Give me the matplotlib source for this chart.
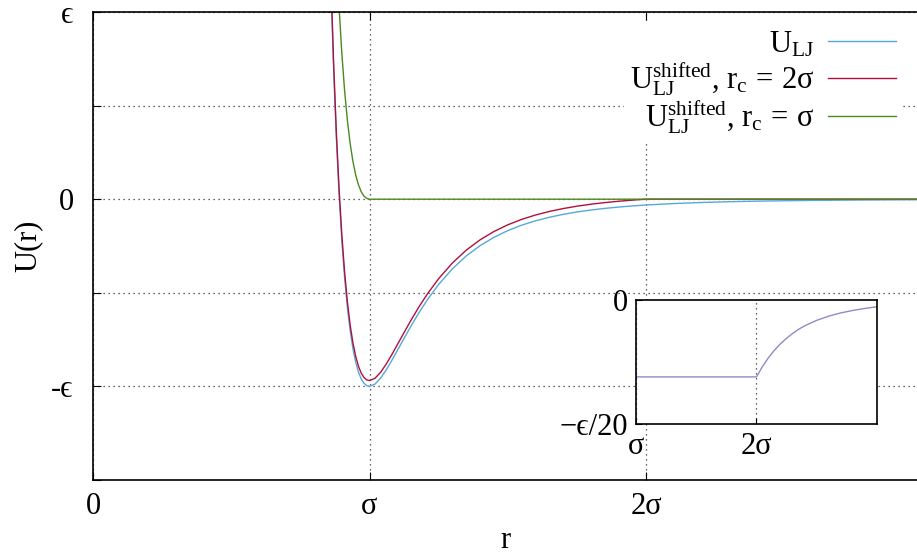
import matplotlib
matplotlib.use("Agg")
import matplotlib.pyplot as plt

plt.rcParams['font.family'] = ['Liberation Serif', 'DejaVu Serif']
plt.rcParams['mathtext.fontset'] = 'custom'
plt.rcParams['mathtext.rm'] = 'Liberation Serif'
plt.rcParams['mathtext.it'] = 'Liberation Serif'
plt.rcParams['mathtext.bf'] = 'Liberation Serif'

# r in units of sigma (position of the minimum), U in units of epsilon
r_vals = [0.85, 0.86, 0.87, 0.88, 0.89, 0.90, 0.91, 0.92, 0.93, 0.94,
          0.95, 0.96, 0.97, 0.98, 0.99, 1.00, 1.02, 1.04, 1.06, 1.08,
          1.10, 1.12, 1.15, 1.18, 1.21, 1.25, 1.30, 1.35, 1.40, 1.45,
          1.50, 1.55, 1.60, 1.65, 1.70, 1.75, 1.80, 1.85, 1.90, 1.95,
          2.00, 2.10, 2.20, 2.30, 2.40, 2.50, 2.60, 2.70, 2.80, 2.90, 3.00]

u_lj = [1.7275, 1.166, 0.706, 0.330, 0.0246, -0.2226, -0.4209, -0.5785, -0.7023, -0.7979,
        -0.8701, -0.9230, -0.9598, -0.9834, -0.9961, -1.0, -0.9875, -0.9560, -0.9129, -0.8632,
        -0.8103, -0.7566, -0.6778, -0.6036, -0.5358, -0.4556, -0.3714, -0.3031, -0.2480, -0.2036,
        -0.1679, -0.1390, -0.1157, -0.0967, -0.0811, -0.0684, -0.0579, -0.0493, -0.0421, -0.0361,
        -0.0310, -0.0232, -0.0176, -0.0135, -0.0104, -0.0082, -0.0065, -0.0052, -0.0042, -0.0034, -0.0027]

u_shift_2 = [1.7585, 1.197, 0.737, 0.361, 0.0556, -0.1916, -0.3899, -0.5475, -0.6713, -0.7669,
             -0.8391, -0.8920, -0.9288, -0.9524, -0.9651, -0.9690, -0.9564, -0.9250, -0.8819, -0.8322,
             -0.7793, -0.7256, -0.6467, -0.5726, -0.5047, -0.4246, -0.3404, -0.2721, -0.2170, -0.1726,
             -0.1369, -0.1080, -0.0846, -0.0656, -0.0501, -0.0374, -0.0269, -0.0183, -0.0111, -0.0050,
             0.0, 0.0, 0.0, 0.0, 0.0, 0.0, 0.0, 0.0, 0.0, 0.0, 0.0]

u_shift_1 = [2.7275, 2.166, 1.706, 1.330, 1.0246, 0.7774, 0.5791, 0.4215, 0.2977, 0.2021,
             0.1299, 0.0770, 0.0402, 0.0166, 0.0039, 0.0, 0.0, 0.0, 0.0, 0.0,
             0.0, 0.0, 0.0, 0.0, 0.0, 0.0, 0.0, 0.0, 0.0, 0.0,
             0.0, 0.0, 0.0, 0.0, 0.0, 0.0, 0.0, 0.0, 0.0, 0.0,
             0.0, 0.0, 0.0, 0.0, 0.0, 0.0, 0.0, 0.0, 0.0, 0.0, 0.0]

# inset: U_LJ - U_shifted (r_c = 2 sigma)
r_inset = [1.0, 2.0, 2.05, 2.1, 2.15, 2.2, 2.25, 2.3, 2.35, 2.4, 2.5, 2.6, 2.7, 2.8, 2.9, 3.0]
du_inset = [-0.0310, -0.0310, -0.0268, -0.0232, -0.0202, -0.0176, -0.0154, -0.0135, -0.0118,
            -0.0104, -0.0082, -0.0065, -0.0052, -0.0042, -0.0034, -0.0027]

x_ticks = [0, 1, 2]
x_ticklabels = ['0', 'σ', '2σ']
y_ticks = [-1.5, -1, -0.5, 0, 0.5, 1]
y_ticklabels = ['', '-ϵ', '', '0', '', 'ϵ']

labels = [r'$\mathrm{U}_{\mathrm{LJ}}$',
          r'$\mathrm{U}_{\mathrm{LJ}}^{\mathrm{shifted}}$, $\mathrm{r}_{\mathrm{c}}\,=\,2\sigma$',
          r'$\mathrm{U}_{\mathrm{LJ}}^{\mathrm{shifted}}$, $\mathrm{r}_{\mathrm{c}}\,=\,\sigma$']
colors = ['#56a8dc', '#b0103c', '#4a8a20']

W, H = 917, 553
fig = plt.figure(figsize=(W / 100, H / 100), dpi=100)
ax = fig.add_axes([93 / W, 1 - 480 / H, (W - 93) / W, 468 / H])

ax.plot(r_vals, u_lj, color=colors[0], lw=1.0, label=labels[0])
ax.plot(r_vals, u_shift_2, color=colors[1], lw=1.0, label=labels[1])
ax.plot(r_vals, u_shift_1, color=colors[2], lw=1.0, label=labels[2])

ax.set_xlim(0, (W - 93) / 276.5)
ax.set_ylim(-1.5, 1)
ax.set_xticks(x_ticks)
ax.set_xticklabels(x_ticklabels)
ax.set_yticks(y_ticks)
ax.set_yticklabels(y_ticklabels)
ax.tick_params(direction='in', length=6, width=0.8, labelsize=22, top=True)
ax.tick_params(axis='x', pad=9)
ax.tick_params(axis='y', pad=14)
ax.spines['right'].set_visible(False)
for s in ['left', 'bottom', 'top']:
    ax.spines[s].set_linewidth(1.2)
ax.grid(True, linestyle=(0, (1, 3)), color='#333333', lw=0.9)
ax.set_axisbelow(True)
ax.set_xlabel('r', fontsize=22, labelpad=3)
ax.set_ylabel('U(r)', fontsize=22, labelpad=6)

leg = ax.legend(loc='upper right', bbox_to_anchor=(1.0, 1.008), fontsize=22,
                markerfirst=False, handlelength=2.2, handletextpad=0.45,
                labelspacing=0.0, frameon=True, fancybox=False,
                borderpad=0.2)
leg.get_frame().set_facecolor('white')
leg.get_frame().set_edgecolor('none')
leg.get_frame().set_alpha(1)

# inset
axi = fig.add_axes([636 / W, 1 - 424 / H, 241 / W, 124 / H])
axi.set_facecolor('white')
axi.plot(r_inset, du_inset, color='#9488c8', lw=1.0)
axi.set_xlim(1, 3)
axi.set_ylim(-0.05, 0)
axi.set_xticks([1, 2])
axi.set_xticklabels(['σ', '2σ'])
axi.set_yticks([-0.05, 0])
axi.set_yticklabels(['−ϵ/20', '0'])
axi.tick_params(direction='in', length=4, width=0.8, labelsize=22, pad=6)
axi.grid(True, axis='x', linestyle=(0, (1, 3)), color='#333333', lw=0.9)
for s in axi.spines.values():
    s.set_linewidth(1.2)

fig.savefig('out.png', dpi=100)
